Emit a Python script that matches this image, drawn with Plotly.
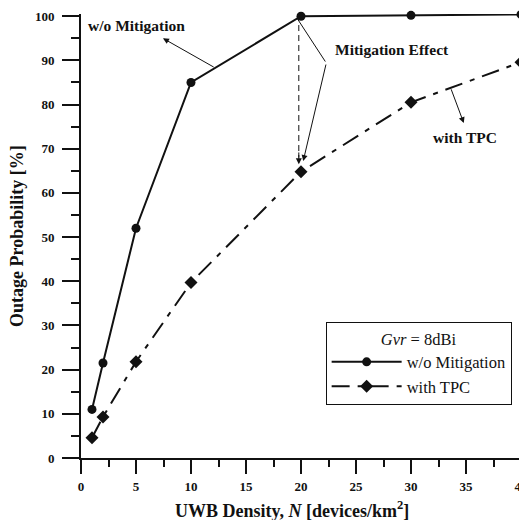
import plotly.graph_objects as go

density = [1, 2, 5, 10, 20, 30, 40]
outage_no_mitigation = [11, 21.5, 52, 85, 100, 100.2, 100.4]
outage_tpc = [4.6, 9.3, 21.8, 39.7, 64.8, 80.5, 89.6]
x_ticks = [0, 5, 10, 15, 20, 25, 30, 35, 40]
y_ticks = [0, 10, 20, 30, 40, 50, 60, 70, 80, 90, 100]

SERIF = "Liberation Serif, Times New Roman, serif"
BLACK = "#111111"

fig = go.Figure()
fig.add_trace(go.Scatter(
    x=density, y=outage_no_mitigation, mode="lines+markers", name="w/o Mitigation",
    line=dict(color=BLACK, width=2),
    marker=dict(symbol="circle", size=9, color=BLACK),
    cliponaxis=False,
))
fig.add_trace(go.Scatter(
    x=density, y=outage_tpc, mode="lines+markers", name="with TPC",
    line=dict(color=BLACK, width=2, dash="18px,8px,5px,8px"),
    marker=dict(symbol="diamond", size=10, color=BLACK),
    cliponaxis=False,
))

bold = dict(family=SERIF, size=15.5, color=BLACK, weight="bold")
title_font = dict(family=SERIF, size=18, color=BLACK, weight="bold")
ann = []
ann.append(dict(x=0.45, y=98, xref="x", yref="y", text="w/o Mitigation", showarrow=False,
                xanchor="left", yanchor="middle", font=bold))
ann.append(dict(x=28.3, y=92.5, xref="x", yref="y", text="Mitigation Effect", showarrow=False,
                xanchor="center", yanchor="middle", font=bold))
ann.append(dict(x=34.9, y=72.6, xref="x", yref="y", text="with TPC", showarrow=False,
                xanchor="center", yanchor="middle", font=bold))
# axis titles
ann.append(dict(x=0.5, y=0, xref="paper", yref="paper", yshift=-51, xshift=-9,
                text="UWB Density, <i>N</i> [devices/km<sup>2</sup>]", showarrow=False,
                xanchor="center", yanchor="middle", font=title_font))
ann.append(dict(x=0, y=0.5, xref="paper", yref="paper", xshift=-64, textangle=-90,
                text="Outage Probability [%]", showarrow=False,
                xanchor="center", yanchor="middle", font=title_font))

def arrow(x, y, ax, ay, head=2, width=1):
    return dict(x=x, y=y, ax=ax, ay=ay, xref="x", yref="y", axref="x", ayref="y",
                text="", showarrow=True, arrowhead=head, arrowsize=1.2, arrowwidth=width,
                arrowcolor=BLACK)
ann.append(arrow(7.45, 95.0, 12.2, 88.3))
ann.append(arrow(34.8, 75.8, 33.6, 83.8))
ann.append(arrow(20.2, 67.2, 22.3, 89.4))
ann.append(dict(x=19.65, y=99.5, ax=22.3, ay=89.4, xref="x", yref="y", axref="x", ayref="y",
                text="", showarrow=True, arrowhead=0, arrowwidth=1, arrowcolor=BLACK))
ann.append(arrow(19.8, 66.5, 19.8, 69.5))

shapes = [dict(type="line", xref="x", yref="y", x0=19.8, y0=98, x1=19.8, y1=68,
               line=dict(color=BLACK, width=1, dash="6px,4px"))]

fig.update_layout(
    width=527, height=520,
    margin=dict(l=73, r=14, t=6, b=70),
    paper_bgcolor="white", plot_bgcolor="white",
    showlegend=True,
    legend=dict(
        x=0.556, y=0.306, xanchor="left", yanchor="top",
        bgcolor="white", bordercolor=BLACK, borderwidth=1,
        font=dict(family=SERIF, size=16.5, color=BLACK),
        title=dict(text="<i>Gvr</i> = 8dBi", side="top center",
                   font=dict(family=SERIF, size=16.5, color=BLACK)),
        itemwidth=70, tracegroupgap=0,
    ),
    annotations=ann,
    shapes=shapes,
    xaxis=dict(
        range=[0, 40], tickvals=x_ticks, showgrid=False, zeroline=False,
        automargin=False, ticklabeloverflow="allow",
        showline=True, linecolor=BLACK, linewidth=2,
        ticks="outside", ticklen=14, tickwidth=2, tickcolor=BLACK,
        minor=dict(dtick=2.5, ticks="outside", ticklen=7, tickwidth=1.5, tickcolor=BLACK),
        tickfont=dict(family=SERIF, size=13, color=BLACK, weight="bold"),
        ticklabelstandoff=1,
    ),
    yaxis=dict(
        range=[0, 100.5], tickvals=y_ticks, showgrid=False, zeroline=False,
        automargin=False, ticklabeloverflow="allow",
        showline=True, linecolor=BLACK, linewidth=2,
        ticks="outside", ticklen=17, tickwidth=2, tickcolor=BLACK,
        minor=dict(dtick=5, ticks="outside", ticklen=8, tickwidth=1.5, tickcolor=BLACK),
        tickfont=dict(family=SERIF, size=13, color=BLACK, weight="bold"),
        ticksuffix="\u00a0",
        ticklabelstandoff=5,
    ),
)

fig.write_html("out.html")
